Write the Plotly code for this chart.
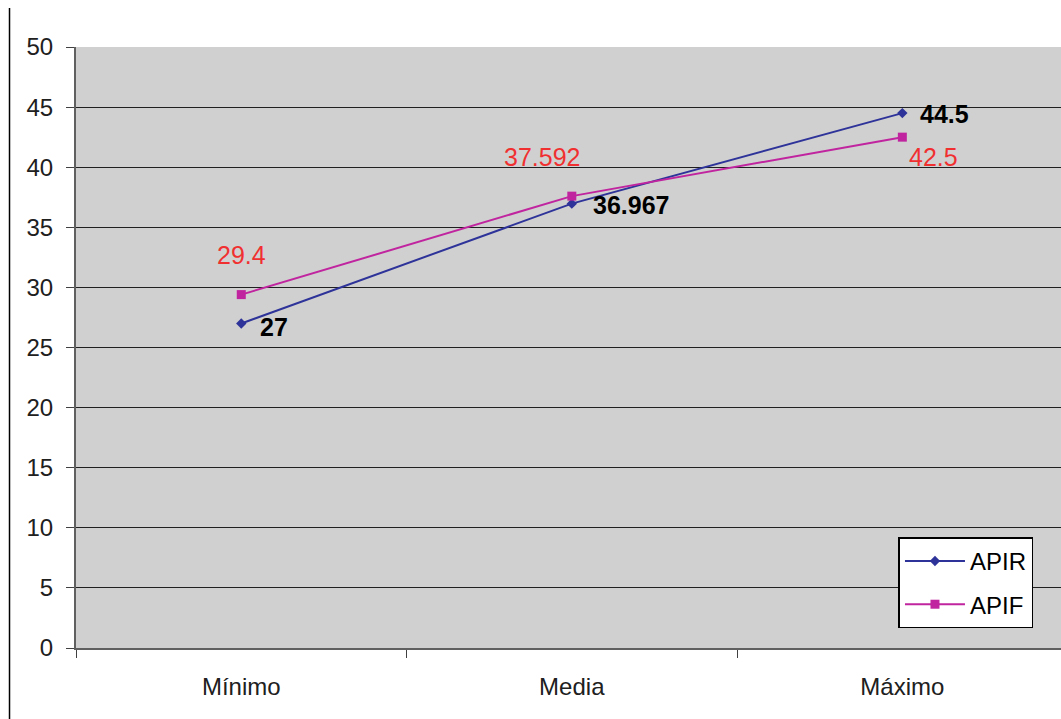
import plotly.graph_objects as go

categories = ["Mínimo", "Media", "Máximo"]
apir = [27, 36.967, 44.5]
apif = [29.4, 37.592, 42.5]
apir_labels = ["27", "36.967", "44.5"]
apif_labels = ["29.4", "37.592", "42.5"]
y_ticks = [0, 5, 10, 15, 20, 25, 30, 35, 40, 45, 50]

FONT = "Liberation Sans, Arial, sans-serif"

fig = go.Figure()
fig.add_trace(go.Scatter(
    x=categories, y=apir, name="APIR", mode="lines+markers", legendgroup="apir",
    line=dict(color="#2e3399", width=2),
    marker=dict(symbol="diamond", size=8, color="#2e3399"),
))
fig.add_trace(go.Scatter(
    x=categories, y=apif, name="APIF", mode="lines+markers", legendgroup="apif",
    line=dict(color="#c0259f", width=2),
    marker=dict(symbol="square", size=9, color="#c0259f"),
))

# value labels
apir_offsets = [(33, -4), (59, -1), (42, -1)]
apif_offsets = [(0, 40), (-30, 39), (31, -20)]
for i, c in enumerate(categories):
    dx, dy = apir_offsets[i]
    fig.add_annotation(x=c, y=apir[i], text=f"<b>{apir_labels[i]}</b>", showarrow=False,
                       xshift=dx, yshift=dy, font=dict(family=FONT, size=25, color="#000000"))
    dx, dy = apif_offsets[i]
    fig.add_annotation(x=c, y=apif[i], text=apif_labels[i], showarrow=False,
                       xshift=dx, yshift=dy, font=dict(family=FONT, size=25, color="#f03030"))

# chart-area left border
fig.add_shape(type="line", xref="paper", yref="paper",
              x0=-0.0675, x1=-0.0675, y0=-0.12, y1=1.065,
              line=dict(color="#000000", width=1.5))

fig.update_layout(
    width=1061, height=719,
    margin=dict(l=76, r=0, t=47, b=71),
    paper_bgcolor="#ffffff", plot_bgcolor="#d0d0d0",
    font=dict(family=FONT, size=24, color="#000000"),
    showlegend=True,
    legend=dict(x=0.835, y=0.184, xanchor="left", yanchor="top",
                bgcolor="#ffffff", bordercolor="#000000", borderwidth=1.5,
                font=dict(size=24), itemwidth=60, tracegroupgap=9),
)
fig.update_xaxes(
    range=[-0.5, 2.48], showgrid=False, zeroline=False,
    showline=True, linecolor="#606060", linewidth=2,
    ticks="outside", ticklen=8, tickcolor="#404040", tickson="boundaries",
    ticklabelstandoff=16,
    tickfont=dict(size=24, color="#202020"),
)
fig.update_yaxes(
    range=[0, 50], tickvals=y_ticks, showgrid=True, gridcolor="#202020", gridwidth=1,
    zeroline=False, showline=True, linecolor="#606060", linewidth=2,
    ticks="outside", ticklen=8, tickcolor="#404040",
    ticklabelstandoff=8,
    tickfont=dict(size=24, color="#202020"),
)

fig.write_html("out.html")
